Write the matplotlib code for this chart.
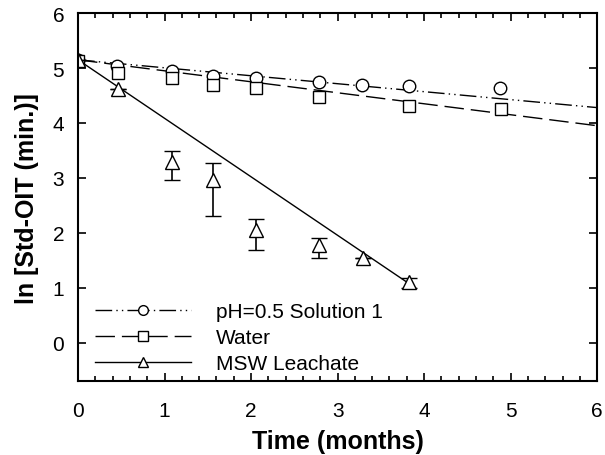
import matplotlib
matplotlib.use('Agg')
import matplotlib.pyplot as plt
from matplotlib.lines import Line2D
import numpy as np

plt.rcParams['font.family'] = ['Liberation Sans', 'DejaVu Sans']

# pH=0.5 Solution 1
t_ph = [0.0, 0.45, 1.09, 1.56, 2.06, 2.79, 3.28, 3.82, 4.88]
y_ph = [5.15, 5.04, 4.95, 4.85, 4.82, 4.75, 4.69, 4.67, 4.63]

# Water
t_water = [0.0, 0.46, 1.09, 1.56, 2.06, 2.79, 3.83, 4.89]
y_water = [5.12, 4.91, 4.82, 4.69, 4.63, 4.47, 4.31, 4.25]

# MSW Leachate (with error bars)
t_msw = [0.0, 0.46, 1.09, 1.56, 2.06, 2.79, 3.29, 3.82]
y_msw = [5.15, 4.62, 3.29, 2.96, 2.06, 1.77, 1.55, 1.10]
err_lo = [0.0, 0.0, 0.32, 0.66, 0.38, 0.22, 0.0, 0.11]
err_hi = [0.0, 0.0, 0.20, 0.32, 0.20, 0.13, 0.0, 0.07]

# linear fits: intercept, slope, end time
fit_ph = (5.15, -0.145, 6.0)
fit_water = (5.15, -0.20, 6.0)
fit_msw = (5.15, -1.065, 3.9)

labels = ['pH=0.5 Solution 1', 'Water', 'MSW Leachate']

fig = plt.figure(figsize=(6.05, 4.56), dpi=100)
ax = fig.add_axes([0.129, 0.162, 0.858, 0.807])

dashdotdot = (0, (12, 3, 1, 3, 1, 3))
longdash = (0, (14, 5))
styles = [dashdotdot, longdash, '-']
markers = ['o', 's', '^']

for (b, m, tend), ls in zip([fit_ph, fit_water, fit_msw], styles):
    tt = np.array([0.0, tend])
    ax.plot(tt, b + m * tt, color='black', lw=1.0, linestyle=ls)

mk = dict(mfc='white', mec='black', mew=1.0, color='black', linestyle='none', ms=9)
ax.plot(t_ph, y_ph, marker='o', **mk)
ax.plot(t_water, y_water, marker='s', **mk)
ax.errorbar(t_msw, y_msw, yerr=[err_lo, err_hi], fmt='^', mfc='white', mec='black',
            mew=1.0, ms=10, ecolor='black', elinewidth=1.2, capsize=5.5, capthick=1.2)

handles = [Line2D([0], [0], color='black', lw=1.0, linestyle=ls, marker=mkr,
                  mfc='white', mec='black', ms=7) for ls, mkr in zip(styles, markers)]
leg = ax.legend(handles, labels, loc='lower left', frameon=False, numpoints=1,
                handlelength=4.6, handletextpad=1.2, labelspacing=0.32,
                fontsize=15, bbox_to_anchor=(0.017, 0.0), borderaxespad=0)

ax.set_xlim(0, 6)
ax.set_ylim(-0.7, 6)
ax.set_xticks(range(0, 7))
ax.set_xticks(np.arange(0, 6.01, 0.2), minor=True)
ax.set_yticks(range(0, 7))
ax.tick_params(axis='both', which='both', direction='in', top=True, right=True,
               labelsize=15, width=1.2)
ax.tick_params(which='major', length=6)
ax.tick_params(axis='x', which='major', pad=14)
ax.tick_params(axis='y', which='major', pad=10)
ax.tick_params(which='minor', length=3.5)
for s in ax.spines.values():
    s.set_linewidth(1.5)

ax.set_xlabel('Time (months)', fontsize=18, fontweight='bold', labelpad=7)
ax.set_ylabel('ln [Std-OIT (min.)]', fontsize=18, fontweight='bold', labelpad=10)

fig.savefig('out.png', dpi=100)
